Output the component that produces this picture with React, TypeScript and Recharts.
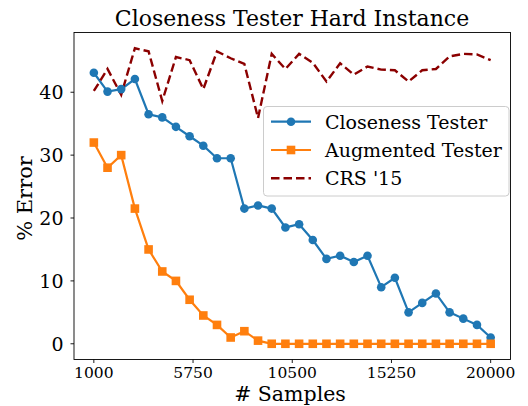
import React from 'react';
import { LineChart, Line, XAxis, YAxis } from 'recharts';

const samples = [
  1000, 1655, 2310, 2966, 3621, 4276, 4931, 5586, 6241, 6897,
  7552, 8207, 8862, 9517, 10172, 10828, 11483, 12138, 12793, 13448,
  14103, 14759, 15414, 16069, 16724, 17379, 18034, 18690, 19345, 20000,
];
const closeness = [
  43.1, 40.1, 40.5, 42.1, 36.5, 36.0, 34.5, 33.0, 31.5, 29.5,
  29.5, 21.5, 22.0, 21.5, 18.5, 19.0, 16.5, 13.5, 14.0, 13.0,
  14.0, 9.0, 10.5, 5.0, 6.5, 8.0, 5.0, 4.0, 3.0, 1.0,
];
const augmented = [
  32, 28, 30, 21.5, 15, 11.5, 10, 7, 4.5, 3,
  1, 2, 0.5, 0, 0, 0, 0, 0, 0, 0,
  0, 0, 0, 0, 0, 0, 0, 0, 0, 0,
];
const crs = [
  40.2, 43.7, 39.6, 47.0, 46.5, 38.6, 45.6, 45.1, 40.5, 46.5,
  45.4, 44.5, 35.9, 46.1, 43.7, 46.1, 44.7, 41.7, 44.6, 42.8,
  44.1, 43.6, 43.5, 41.7, 43.5, 43.7, 45.7, 46.1, 46.0, 45.1,
];
const xTicks = [1000, 5750, 10500, 15250, 20000];
const yTicks = [0, 10, 20, 30, 40];
const seriesNames = ['Closeness Tester', 'Augmented Tester', "CRS '15"];
const title = 'Closeness Tester Hard Instance';
const xLabel = '# Samples';
const yLabel = '% Error';

const W = 528;
const H = 406;
const PLOT = { left: 74, top: 32.5, right: 510.5, bottom: 359.5 };
const FONT = "'DejaVu Serif', serif";
const BLUE = '#1f77b4';
const ORANGE = '#ff7f0e';
const RED = '#8b0000';

const SquareDot = (props: any) => {
  const { cx, cy, index } = props;
  if (cx == null || cy == null) return <g key={`sq-${index}`} />;
  const s = 8.6;
  return <rect key={`sq-${index}`} x={cx - s / 2} y={cy - s / 2} width={s} height={s} fill={ORANGE} />;
};

export default function App() {
  const data = samples.map((s, i) => ({
    samples: s,
    closeness: closeness[i],
    augmented: augmented[i],
    crs: crs[i],
  }));
  const lx = 263.5, ly = 106.5, lw = 245.5, lh = 89.5;
  const rows = [121.7, 150, 178.3];
  return (
    <div style={{ position: 'absolute', left: 0, top: 0, width: W, height: H, background: '#fff', fontFamily: FONT }}>
      <LineChart
        width={W}
        height={H}
        data={data}
        margin={{ top: PLOT.top, right: W - PLOT.right, bottom: 0, left: 0 }}
      >
        <XAxis
          dataKey="samples"
          type="number"
          domain={[50, 20950]}
          ticks={xTicks}
          interval={0}
          height={H - PLOT.bottom}
          tickSize={3.5}
          tickMargin={4.2}
          axisLine={false}
          tickLine={{ stroke: '#000', strokeWidth: 0.9 }}
          tick={{ fontSize: 15.5, fill: '#000', fontFamily: FONT }}
          allowDataOverflow
        />
        <YAxis
          type="number"
          domain={[-2.5, 49.5]}
          ticks={yTicks}
          interval={0}
          width={PLOT.left}
          tickSize={3.5}
          tickMargin={7}
          axisLine={false}
          tickLine={{ stroke: '#000', strokeWidth: 0.9 }}
          tick={{ fontSize: 19, fill: '#000', fontFamily: FONT }}
          allowDataOverflow
        />
        <Line
          dataKey="closeness"
          stroke={BLUE}
          strokeWidth={2.2}
          dot={{ r: 4.3, fill: BLUE, stroke: 'none' }}
          isAnimationActive={false}
        />
        <Line
          dataKey="augmented"
          stroke={ORANGE}
          strokeWidth={2.2}
          dot={SquareDot}
          isAnimationActive={false}
        />
        <Line
          dataKey="crs"
          stroke={RED}
          strokeWidth={2.4}
          strokeDasharray="8.5 4"
          dot={false}
          isAnimationActive={false}
        />
      </LineChart>
      <svg
        width={W}
        height={H}
        style={{ position: 'absolute', left: 0, top: 0, pointerEvents: 'none' }}
        fontFamily={FONT}
      >
        <rect
          x={PLOT.left}
          y={PLOT.top}
          width={PLOT.right - PLOT.left}
          height={PLOT.bottom - PLOT.top}
          fill="none"
          stroke="#000"
          strokeWidth={0.9}
        />
        <text x={292} y={25.5} textAnchor="middle" fontSize={22} fill="#000">{title}</text>
        <text x={290} y={401} textAnchor="middle" fontSize={20.5} fill="#000">{xLabel}</text>
        <text
          x={32}
          y={198.5}
          textAnchor="middle"
          fontSize={21}
          fill="#000"
          transform="rotate(-90, 32, 198.5)"
        >
          {yLabel}
        </text>
        <rect x={lx} y={ly} width={lw} height={lh} rx={3.5} fill="rgba(255,255,255,0.85)" stroke="#cccccc" strokeWidth={1} />
        <line x1={271} x2={311} y1={rows[0]} y2={rows[0]} stroke={BLUE} strokeWidth={2.2} />
        <circle cx={291} cy={rows[0]} r={4.3} fill={BLUE} />
        <line x1={271} x2={311} y1={rows[1]} y2={rows[1]} stroke={ORANGE} strokeWidth={2.2} />
        <rect x={291 - 4.3} y={rows[1] - 4.3} width={8.6} height={8.6} fill={ORANGE} />
        <line x1={271} x2={311} y1={rows[2]} y2={rows[2]} stroke={RED} strokeWidth={2.4} strokeDasharray="8.5 4" />
        {seriesNames.map((n, i) => (
          <text key={n} x={325} y={rows[i] + 6.8} fontSize={19} fill="#000">{n}</text>
        ))}
      </svg>
    </div>
  );
}
